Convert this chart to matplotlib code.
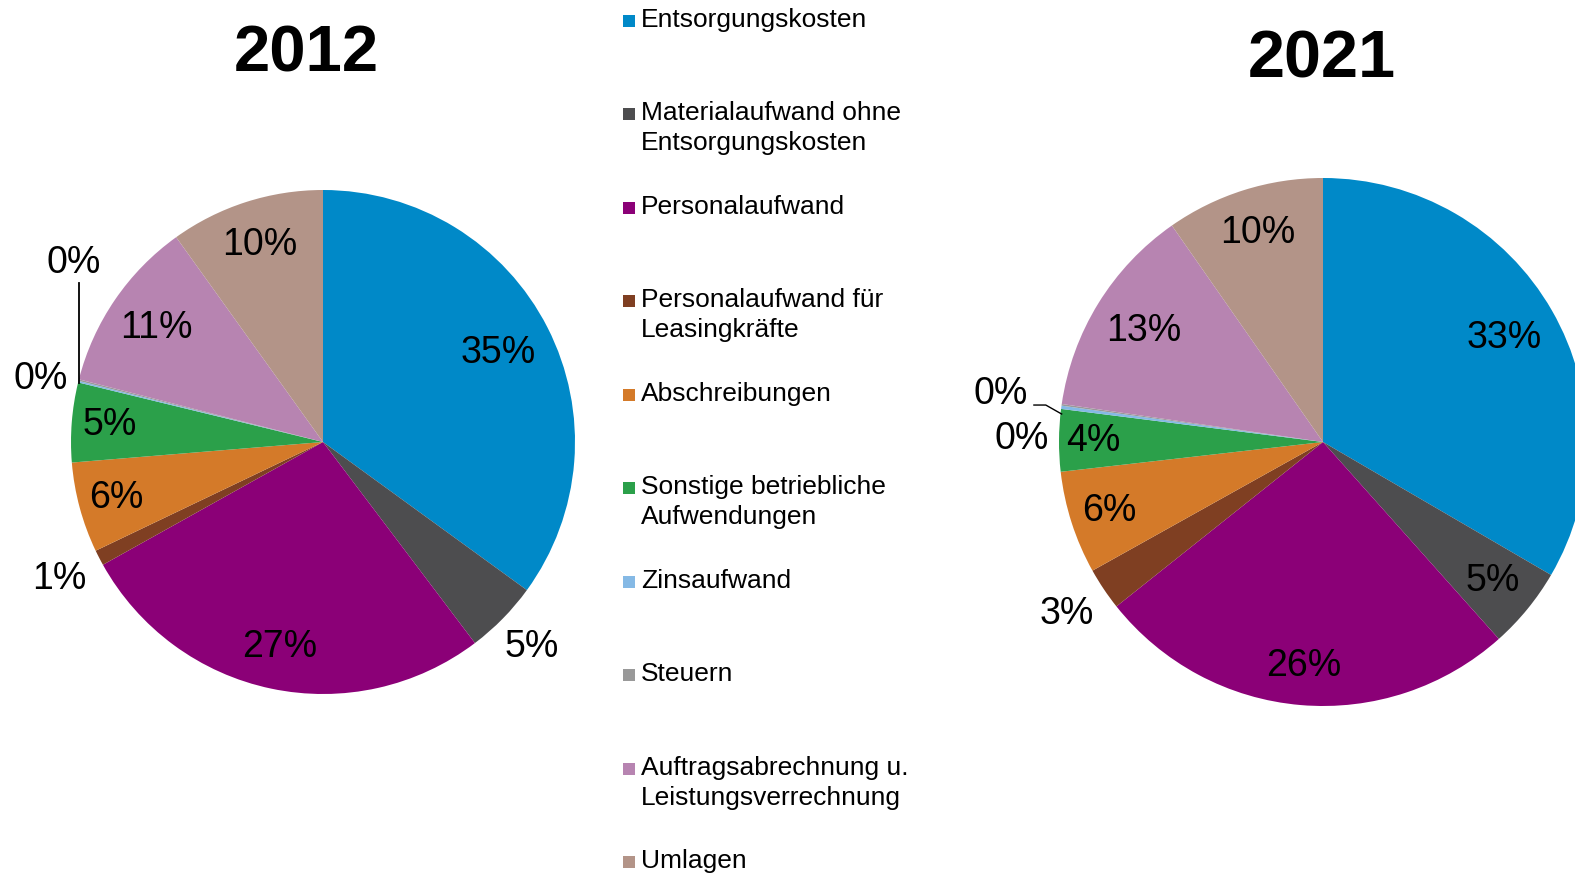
import matplotlib
matplotlib.use("Agg")
import matplotlib.pyplot as plt
from matplotlib.patches import Rectangle
import numpy as np

plt.rcParams['font.family'] = ['Liberation Sans', 'DejaVu Sans']

# data
categories = ['Entsorgungskosten',
              'Materialaufwand ohne\nEntsorgungskosten',
              'Personalaufwand',
              'Personalaufwand für\nLeasingkräfte',
              'Abschreibungen',
              'Sonstige betriebliche\nAufwendungen',
              'Zinsaufwand',
              'Steuern',
              'Auftragsabrechnung u.\nLeistungsverrechnung',
              'Umlagen']
colors = ['#0089C8', '#4D4D4F', '#8B0077', '#7F3F22', '#D47A29',
          '#2BA04A', '#85B9E5', '#999999', '#B784B1', '#B39488']
shares_2012 = [35.0, 4.7, 27.2, 1.0, 5.8, 5.1, 0.1, 0.1, 11.1, 9.9]
shares_2021 = [33.4, 5.0, 25.9, 2.6, 6.3, 3.8, 0.2, 0.1, 13.0, 9.7]

W, H = 1575, 877
fig = plt.figure(figsize=(W / 100, H / 100), dpi=100)


def pie_axes(cx, cy, r):
    half = 1.3 * r
    return fig.add_axes([(cx - half) / W, (H - cy - half) / H, 2 * half / W, 2 * half / H])


def draw_pie(ax, values, radii):
    wedges, _ = ax.pie(values, colors=colors, startangle=90, counterclock=False,
                       wedgeprops=dict(linewidth=0))
    total = sum(values)
    for w, v, r in zip(wedges, values, radii):
        if r is None:
            continue
        ang = np.deg2rad((w.theta1 + w.theta2) / 2)
        ax.text(r * np.cos(ang), r * np.sin(ang), f"{v / total * 100:.0f}%",
                ha='center', va='center', fontsize=27)
    ax.set_xlim(-1.3, 1.3)
    ax.set_ylim(-1.3, 1.3)
    ax.axis('off')
    return wedges


# 2012
ax1 = pie_axes(323, 442, 252)
draw_pie(ax1, shares_2012, [0.78, 1.16, 0.83, 1.18, 0.85, 0.85, None, None, 0.8, 0.82])
ax1.text(-1.12, 0.25, "0%", ha='center', va='center', fontsize=27)
ax1.text(-0.99, 0.71, "0%", ha='center', va='center', fontsize=27)
ax1.plot([-0.968, -0.968], [0.234, 0.63], color='black', lw=1.3)

# 2021
ax2 = pie_axes(1323, 442, 264)
draw_pie(ax2, shares_2021, [0.79, 0.83, 0.85, 1.17, 0.85, 0.87, None, None, 0.8, 0.83])
ax2.text(-1.14, 0.01, "0%", ha='center', va='center', fontsize=27)
ax2.text(-1.22, 0.18, "0%", ha='center', va='center', fontsize=27)
ax2.plot([-1.095, -1.05, -0.99], [0.14, 0.14, 0.106], color='black', lw=1.0)

# titles
fig.text(306 / W, 1 - 71 / H, "2012", ha='center', va='baseline', fontsize=47, fontweight='bold')
fig.text(1322 / W, 1 - 78 / H, "2021", ha='center', va='baseline', fontsize=48, fontweight='bold')

# legend
step = 93.44
for i, (lab, col) in enumerate(zip(categories, colors)):
    base = 27 + i * step
    fig.patches.append(Rectangle((623 / W, 1 - base / H), 12 / W, 12 / H,
                                 transform=fig.transFigure, facecolor=col, edgecolor='none'))
    for k, line in enumerate(lab.split('\n')):
        fig.text(641 / W, 1 - (base + 30 * k) / H, line, ha='left', va='baseline', fontsize=19)

fig.savefig("out.png", dpi=100)
